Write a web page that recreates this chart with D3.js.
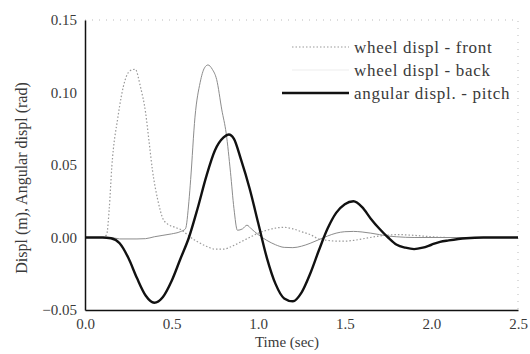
<!DOCTYPE html>
<html>
<head>
<meta charset="utf-8">
<script src="https://cdn.jsdelivr.net/npm/d3@7"></script>
<style>
  body { margin: 0; background: #fff; }
  svg text { font-family: 'Liberation Serif', 'Times New Roman', 'DejaVu Serif', serif; fill: #3a3a3a; }
</style>
</head>
<body>
<script>
// time (sec) and values
var frontT = [0, 0.1, 0.125, 0.14, 0.155, 0.19, 0.23, 0.26, 0.29, 0.32, 0.35, 0.37, 0.39, 0.42, 0.45, 0.48, 0.52, 0.56, 0.6, 0.65, 0.7, 0.75, 0.8, 0.85, 0.9, 0.95, 1.0, 1.05, 1.1, 1.15, 1.2, 1.25, 1.3, 1.35, 1.4, 1.45, 1.5, 1.55, 1.6, 1.7, 1.8, 1.9, 2.0, 2.1, 2.5];
var frontV = [0, 0, 0.002, 0.02, 0.049, 0.083, 0.108, 0.115, 0.116, 0.104, 0.086, 0.066, 0.046, 0.026, 0.013, 0.009, 0.007, 0.005, 0.001, -0.003, -0.006, -0.008, -0.008, -0.006, -0.003, 0.0, 0.003, 0.005, 0.0065, 0.007, 0.006, 0.004, 0.002, -0.001, -0.002, -0.0025, -0.0025, -0.002, -0.001, 0.001, 0.002, 0.0015, 0.0005, 0, 0];

var backT = [0, 0.15, 0.2, 0.3, 0.35, 0.4, 0.45, 0.5, 0.55, 0.58, 0.6, 0.61, 0.635, 0.665, 0.69, 0.71, 0.735, 0.76, 0.79, 0.815, 0.84, 0.86, 0.88, 0.91, 0.935, 0.96, 1.0, 1.05, 1.1, 1.15, 1.2, 1.25, 1.3, 1.35, 1.4, 1.45, 1.5, 1.55, 1.6, 1.65, 1.7, 1.75, 1.8, 1.9, 2.5];
var backV = [0, 0, -0.001, -0.001, -0.0008, 0.0005, 0.0015, 0.0025, 0.004, 0.006, 0.025, 0.04, 0.083, 0.107, 0.117, 0.119, 0.116, 0.109, 0.088, 0.072, 0.045, 0.02, 0.005, 0.006, 0.0085, 0.006, 0.002, -0.002, -0.005, -0.0068, -0.007, -0.006, -0.004, -0.0015, 0.001, 0.003, 0.004, 0.0042, 0.0038, 0.003, 0.002, 0.001, 0.0005, 0, 0];

var pitchT = [0, 0.1, 0.15, 0.2, 0.25, 0.3, 0.35, 0.4, 0.45, 0.5, 0.55, 0.6, 0.65, 0.7, 0.75, 0.8, 0.83, 0.86, 0.9, 0.95, 1.0, 1.05, 1.1, 1.15, 1.2, 1.25, 1.3, 1.35, 1.4, 1.45, 1.5, 1.55, 1.6, 1.65, 1.7, 1.75, 1.8, 1.85, 1.9, 1.95, 2.0, 2.05, 2.1, 2.2, 2.3, 2.5];
var pitchV = [0, 0, -0.0005, -0.004, -0.014, -0.028, -0.040, -0.045, -0.041, -0.030, -0.015, 0.0, 0.020, 0.042, 0.060, 0.069, 0.071, 0.068, 0.054, 0.034, 0.010, -0.014, -0.032, -0.042, -0.044, -0.038, -0.025, -0.009, 0.006, 0.017, 0.023, 0.025, 0.021, 0.013, 0.006, 0.0, -0.005, -0.007, -0.008, -0.007, -0.005, -0.003, -0.002, -0.0005, 0, 0];

var xTicks = [0, 0.5, 1.0, 1.5, 2.0, 2.5];
var yTicks = [-0.05, 0, 0.05, 0.10, 0.15];
var labels = ["wheel displ - front", "wheel displ - back", "angular displ. - pitch"];

//Width and height
var w = 530;
var h = 354;
var margin = {top: 20, right: 12, bottom: 44, left: 85};

var svg = d3.select("body")
    .append("svg")
    .attr("width", w)
    .attr("height", h);

var x = d3.scaleLinear().domain([0, 2.5]).range([margin.left, w - margin.right]);
var y = d3.scaleLinear().domain([-0.05, 0.15]).range([h - margin.bottom, margin.top]);

//faint frame on top and right
svg.append("path")
    .attr("d", "M" + x(0) + "," + y(0.15) + "H" + x(2.5) + "V" + y(-0.05))
    .attr("fill", "none")
    .attr("stroke", "#bbb")
    .attr("stroke-width", 1)
    .attr("stroke-dasharray", "1,6");

//axes
var xAxis = d3.axisBottom(x).tickValues(xTicks).tickSize(0).tickPadding(8)
    .tickFormat(d3.format(".1f"));
var yAxis = d3.axisLeft(y).tickValues(yTicks).tickSize(0).tickPadding(8)
    .tickFormat(d3.format(".2f"));

var gx = svg.append("g").attr("transform", "translate(0," + y(-0.05) + ")").call(xAxis);
var gy = svg.append("g").attr("transform", "translate(" + x(0) + ",0)").call(yAxis);
[gx, gy].forEach(g => {
    g.attr("font-family", null);
    g.select(".domain").attr("stroke", "#111").attr("stroke-width", 1.5);
    g.selectAll("text").attr("font-size", 15).attr("fill", "#3a3a3a");
});

//axis titles
svg.append("text")
    .attr("x", 287)
    .attr("y", h - 7)
    .attr("text-anchor", "middle")
    .attr("font-size", 15)
    .text("Time (sec)");

svg.append("text")
    .attr("transform", "translate(27,178) rotate(-90)")
    .attr("text-anchor", "middle")
    .attr("font-size", 16)
    .text("Displ (m), Angular displ (rad)");

//lines
var line = d3.line()
    .x(d => x(d[0]))
    .y(d => y(d[1]))
    .curve(d3.curveMonotoneX);

var series = [
    {t: frontT, v: frontV, stroke: "#9a9a9a", width: 1.2, dash: "1.5,2"},
    {t: backT, v: backV, stroke: "#8c8c8c", width: 1, dash: null},
    {t: pitchT, v: pitchV, stroke: "#111", width: 2.4, dash: null}
];

svg.selectAll(".series")
    .data(series)
    .enter()
    .append("path")
    .attr("class", "series")
    .attr("fill", "none")
    .attr("stroke", d => d.stroke)
    .attr("stroke-width", d => d.width)
    .attr("stroke-dasharray", d => d.dash)
    .attr("d", d => line(d.t.map((t, i) => [t, d.v[i]])));

//legend
var legendY = [47, 70, 93];
var legend = svg.selectAll(".legend")
    .data(series)
    .enter()
    .append("g")
    .attr("class", "legend")
    .attr("transform", (d, i) => "translate(0," + legendY[i] + ")");

legend.append("line")
    .attr("x1", (d, i) => i == 2 ? 282 : 292)
    .attr("x2", 349)
    .attr("stroke", d => d.stroke)
    .attr("stroke-width", d => d.width)
    .attr("stroke-dasharray", d => d.dash)
    .attr("stroke-opacity", (d, i) => i == 1 ? 0.15 : 1);

legend.append("text")
    .attr("x", 354)
    .attr("dy", "0.33em")
    .attr("font-size", 17)
    .attr("letter-spacing", 0.7)
    .text((d, i) => labels[i]);
</script>
</body>
</html>
